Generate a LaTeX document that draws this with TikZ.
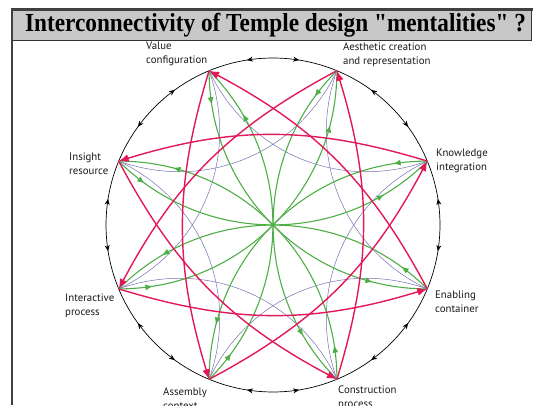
\documentclass[tikz,border=0pt]{standalone}
\usepackage{fontspec}
\setmainfont{Liberation Serif}
\newfontfamily\titlefont{Liberation Serif}[Ligatures=TeXOff]
\newfontfamily\labfont{PT Sans}
\usetikzlibrary{arrows.meta,decorations.markings}
\definecolor{cred}{RGB}{226,24,88}
\definecolor{cgreen}{RGB}{78,174,70}
\definecolor{cblue}{RGB}{112,112,176}
\definecolor{titlegray}{RGB}{200,200,200}
\tikzset{
  outerarc/.style={black, line width=0.7pt, postaction={decorate},
    decoration={markings,
      mark=at position 0.3 with {\arrowreversed{Stealth[length=6pt,width=5pt]}},
      mark=at position 0.7 with {\arrow{Stealth[length=6pt,width=5pt]}}}},
  gline/.style={cgreen, line width=1.1pt, postaction={decorate},
    decoration={markings,
      mark=at position 0.1 with {\arrow{Latex[length=7.5pt,width=6pt]}},
      mark=at position 0.84 with {\arrow{Latex[length=7.5pt,width=6pt]}}}},
  rline/.style={cred, line width=1.4pt, -{Latex[length=10pt,width=8pt]}},
  bline/.style={cblue, line width=0.5pt},
  lab/.style={font=\labfont\fontsize{10.8}{14}\selectfont, align=left, anchor=north west, inner sep=0pt, text=black!90}
}
\begin{document}
\begin{tikzpicture}[x=1pt,y=1pt]
\useasboundingbox (0,0) rectangle (533,405);
% frame and title
\fill[titlegray] (12,365) rectangle (531,395);
\draw[line width=0.7pt, black!80] (12,365) rectangle (531,395);
\draw[line width=2.5pt, black!75] (10.5,395.5) -- (533,395.5);
\draw[line width=1.5pt, black!75] (12,396) -- (12,0);
\node[font=\titlefont\bfseries\fontsize{26}{28}\selectfont, anchor=base, inner sep=0pt] (title) at (275.5,373) {\scalebox{0.895}[1]{Interconnectivity of Temple design "mentalities" ?}};
% points
\coordinate (O) at (273,180);
\foreach \i in {0,...,7}{
  \path (O) ++({22.5+45*\i}:167) coordinate (p\i);
}
% outer circle arcs
\foreach \i in {0,...,7}{
  \draw[outerarc] (p\i) arc[start angle={22.5+45*\i}, delta angle=45, radius=167];
}
% blue arcs i -> i+2
\foreach \i in {0,...,7}{
  \pgfmathtruncatemacro\j{mod(\i+2,8)}
  \draw[bline] (p\i) to[bend left=42] (p\j);
}
% green arcs i+3 -> i through centre
\foreach \i in {0,...,7}{
  \pgfmathtruncatemacro\j{mod(\i+3,8)}
  \draw[gline] (p\j) to[bend right=45] (p\i);
}
\fill[cgreen] (O) circle (1.6);
% red arcs i -> i+3
\foreach \i in {0,...,7}{
  \pgfmathtruncatemacro\j{mod(\i+3,8)}
  \draw[rline] (p\i) to[bend right=17] (p\j);
}
% labels
\node[lab] (lvalue) at (146,363) {Value\\configuration};
\node[lab] (laes) at (343,362) {Aesthetic creation\\and representation};
\node[lab] (lknow) at (436,256) {Knowledge\\integration};
\node[lab] (lenab) at (435,114) {Enabling\\container};
\node[lab] (lcons) at (338,19) {Construction\\process};
\node[lab] (lass) at (163,17) {Assembly\\context};
\node[lab] (linter) at (65,111) {Interactive\\process};
\node[lab] (linsight) at (69,252) {Insight\\resource};
\end{tikzpicture}
\end{document}
